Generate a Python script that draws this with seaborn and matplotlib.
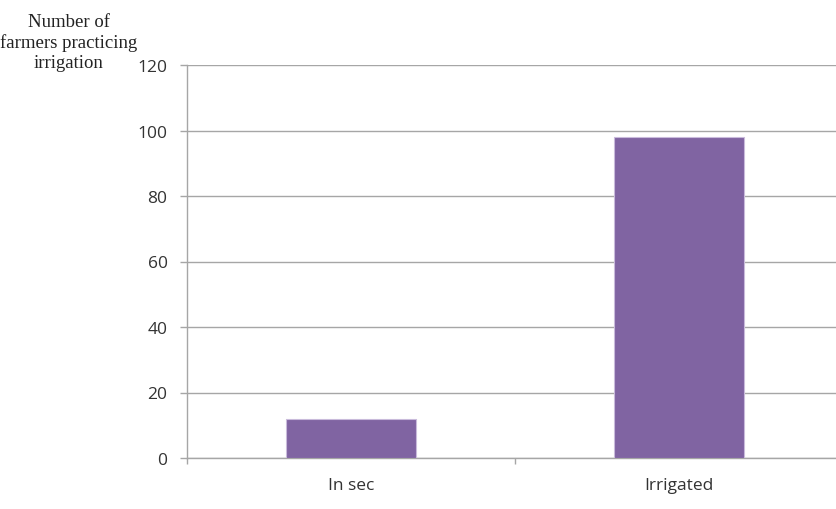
import matplotlib
matplotlib.use("Agg")
import matplotlib.pyplot as plt
import seaborn as sns
import pandas as pd

categories = ["In sec", "Irrigated"]
values = [12, 98]
yticks = [0, 20, 40, 60, 80, 100, 120]

sns.set_theme(style="white")
plt.rcParams['font.family'] = ['Open Sans', 'DejaVu Sans']

df = pd.DataFrame({"cat": categories, "val": values})

fig = plt.figure(figsize=(8.36, 5.10), dpi=100)
ax = fig.add_axes([187/836, 51/510, 656/836, 393/510])

sns.barplot(data=df, x="cat", y="val", color="#8064A2", saturation=1,
            width=0.396, edgecolor="#c9bbdb", linewidth=0.8, ax=ax, zorder=3)

ax.set_ylim(0, 120)
ax.set_xlim(-0.5, 1.5)
ax.set_yticks(yticks)
ax.set_yticklabels([str(v) for v in yticks], fontsize=12.5, color="#333333")
ax.yaxis.grid(True, color="#a6a6a6", linewidth=1.0, zorder=0)
ax.set_axisbelow(True)

ax.set_xticks([0, 1])
ax.set_xticklabels(categories, fontsize=12.5, color="#333333")
ax.tick_params(axis="x", length=0, pad=14)
ax.tick_params(axis="y", left=True, length=5, width=1, color="#a6a6a6", pad=9)
ax.set_xticks([-0.5, 0.5, 1.5], minor=True)
ax.tick_params(axis="x", which="minor", bottom=True, length=4, width=1, color="#a6a6a6")

for s in ["top", "right"]:
    ax.spines[s].set_visible(False)
for s in ["left", "bottom"]:
    ax.spines[s].set_color("#a6a6a6")
    ax.spines[s].set_linewidth(1.0)

ax.set_xlabel("")
ax.set_ylabel("")

fig.text(69/836, 1 - 43/510, "Number of\nfarmers practicing\nirrigation",
         ha="center", va="center", multialignment="center",
         fontsize=13.5, family=["Liberation Serif"], color="#222222", linespacing=1.25)

fig.savefig("out.png", dpi=100)
